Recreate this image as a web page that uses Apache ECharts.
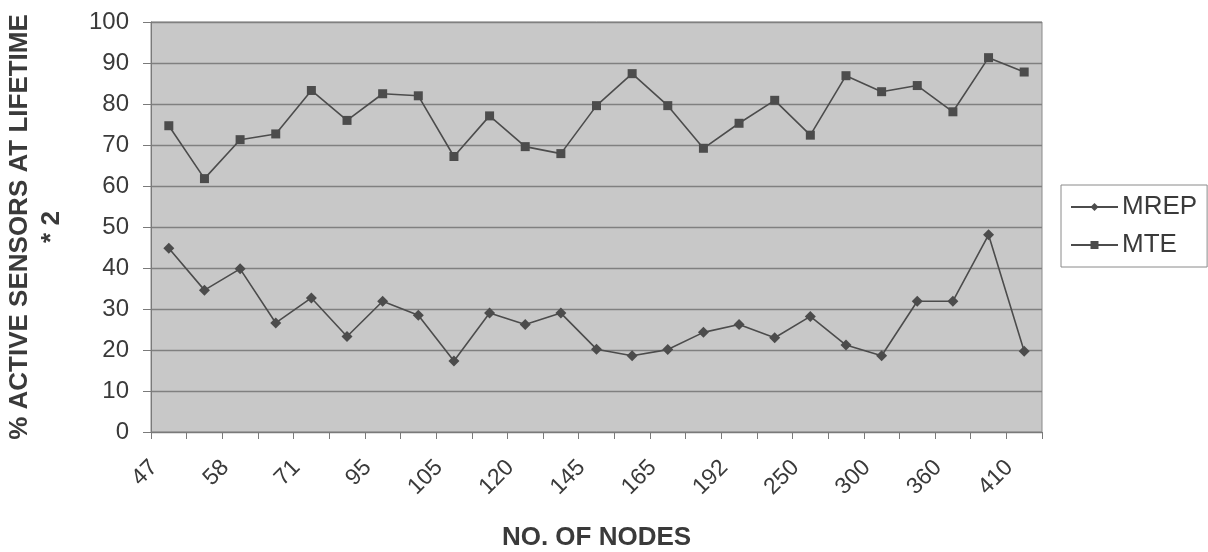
<!DOCTYPE html>
<html>
<head>
<meta charset="utf-8">
<script src="https://cdn.jsdelivr.net/npm/echarts@6/dist/echarts.min.js"></script>
<style>
  html, body { margin: 0; padding: 0; background: #ffffff; }
  #chart { width: 1208px; height: 552px; }
</style>
</head>
<body>
<div id="chart"></div>
<script>
// Network sizes (every second one is labelled on the axis)
const nodeCounts = ['47', '52', '58', '64', '71', '83', '95', '100', '105', '112', '120', '132',
  '145', '155', '165', '178', '192', '220', '250', '275', '300', '330', '360', '385', '410'];

// % active sensors at lifetime (x2)
const mrepValues = [44.8, 34.6, 39.8, 26.6, 32.7, 23.3, 31.9, 28.5, 17.3, 29.0, 26.2, 29.0,
  20.2, 18.6, 20.1, 24.3, 26.2, 23.0, 28.2, 21.2, 18.6, 31.9, 31.9, 48.1, 19.7];
const mteValues = [74.7, 61.8, 71.3, 72.7, 83.3, 76.0, 82.5, 82.0, 67.2, 77.1, 69.6, 67.9,
  79.6, 87.4, 79.6, 69.2, 75.3, 80.9, 72.4, 86.9, 83.0, 84.5, 78.1, 91.3, 87.8];

const yMin = 0, yMax = 100, yStep = 10;

const chart = echarts.init(document.getElementById('chart'), null, { renderer: 'canvas' });

const fontFamily = 'Liberation Sans, Arial, sans-serif';
const lineColor = '#4c4c4c';
const textColor = '#3a3a3a';

chart.setOption({
  backgroundColor: '#ffffff',
  animation: false,
  grid: {
    left: 151, right: 166, top: 22, bottom: 120,
    containLabel: false,
    outerBoundsMode: 'none',
    show: true,
    backgroundColor: '#c8c8c8',
    borderColor: '#8a8a8a',
    borderWidth: 1
  },
  legend: {
    orient: 'vertical',
    left: 1061,
    top: 185,
    padding: [9, 10, 9, 9],
    borderColor: '#8a8a8a',
    borderWidth: 1,
    itemWidth: 47,
    itemHeight: 10,
    itemGap: 12,
    textStyle: { fontFamily, fontSize: 26, color: textColor, padding: [0, 0, 0, -1] },
    data: ['MREP', 'MTE']
  },
  xAxis: {
    type: 'category',
    data: nodeCounts,
    boundaryGap: true,
    name: 'NO. OF NODES',
    nameLocation: 'middle',
    nameGap: 93,
    nameTextStyle: { fontFamily, fontSize: 26, fontWeight: 'bold', color: textColor },
    axisLine: { lineStyle: { color: '#7a7a7a', width: 1 } },
    axisTick: { show: true, interval: 0, length: 7, lineStyle: { color: '#7a7a7a' } },
    axisLabel: {
      interval: 1,
      rotate: 45,
      margin: 17,
      padding: [0, 21, 0, 0],
      fontFamily, fontSize: 23, color: textColor
    },
    splitLine: { show: false }
  },
  yAxis: {
    type: 'value',
    min: yMin, max: yMax, interval: yStep,
    name: '% ACTIVE SENSORS AT LIFETIME\n* 2',
    nameLocation: 'middle',
    nameGap: 83,
    nameTextStyle: { fontFamily, fontSize: 26, fontWeight: 'bold', color: textColor, lineHeight: 32, align: 'center' },
    axisLine: { show: true, lineStyle: { color: '#7a7a7a', width: 1 } },
    axisTick: { show: true, length: 8, lineStyle: { color: '#7a7a7a' } },
    axisLabel: { margin: 22, fontFamily, fontSize: 24, color: textColor },
    splitLine: { show: true, lineStyle: { color: '#808080', width: 1.3 } }
  },
  series: [
    {
      name: 'MREP',
      type: 'line',
      data: mrepValues,
      symbol: 'diamond',
      symbolSize: 11,
      itemStyle: { color: lineColor },
      lineStyle: { color: lineColor, width: 1.6 }
    },
    {
      name: 'MTE',
      type: 'line',
      data: mteValues,
      symbol: 'rect',
      symbolSize: 9,
      itemStyle: { color: lineColor },
      lineStyle: { color: lineColor, width: 1.6 }
    }
  ]
});
</script>
</body>
</html>
